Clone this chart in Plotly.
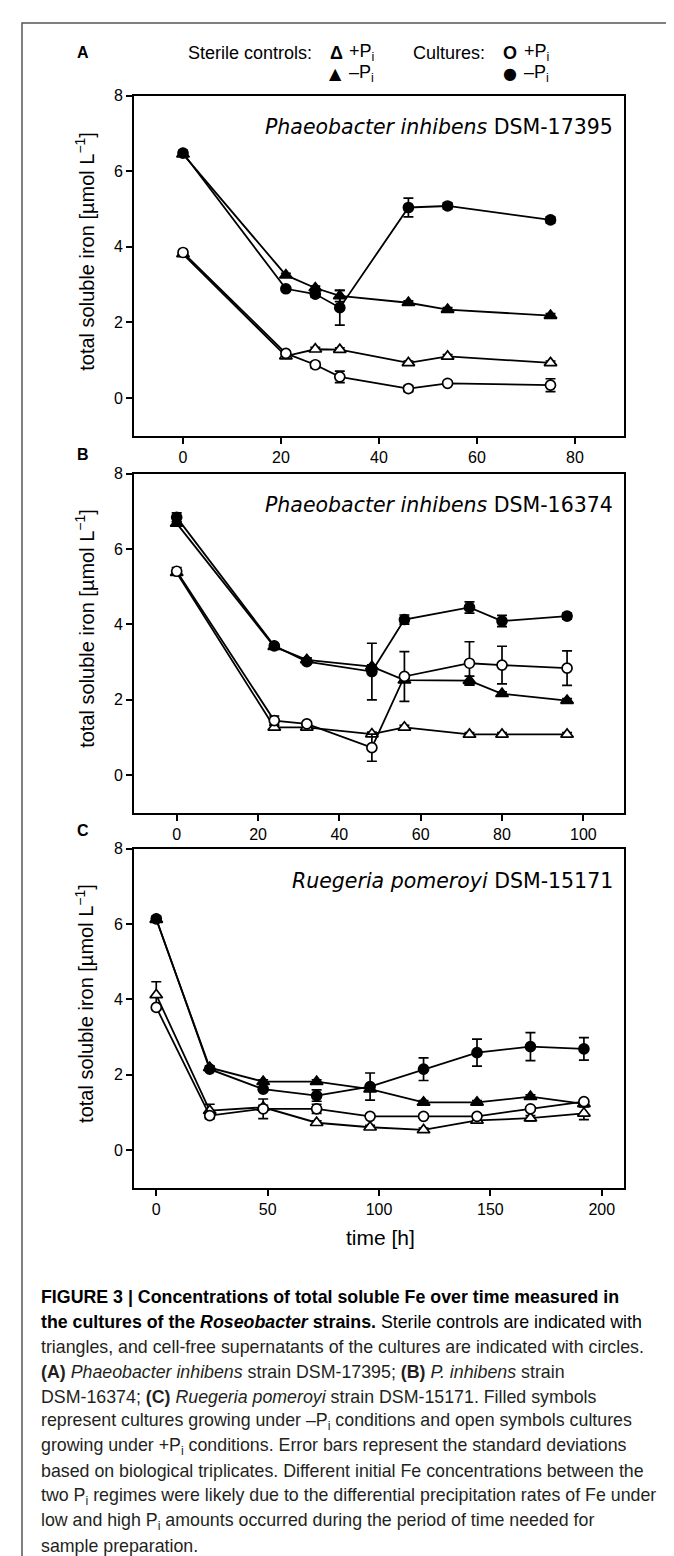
import plotly.graph_objects as go

W, H = 674, 1556

# ---------------- data ----------------
A_time = [0, 21, 27, 32, 46, 54, 75]
A_sterile_plus = [3.81, 1.11, 1.29, 1.28, 0.93, 1.10, 0.93]
A_sterile_plus_err = [0.05, 0.05, 0.05, 0.05, 0.05, 0.05, 0.05]
A_sterile_minus = [6.45, 3.25, 2.91, 2.70, 2.52, 2.34, 2.18]
A_sterile_minus_err = [0.05, 0.05, 0.05, 0.15, 0.05, 0.05, 0.05]
A_culture_plus = [3.85, 1.18, 0.88, 0.56, 0.25, 0.39, 0.34]
A_culture_plus_err = [0.05, 0.05, 0.08, 0.15, 0.08, 0.05, 0.17]
A_culture_minus = [6.48, 2.89, 2.75, 2.39, 5.04, 5.08, 4.71]
A_culture_minus_err = [0.07, 0.05, 0.08, 0.46, 0.25, 0.08, 0.08]

B_time = [0, 24, 32, 48, 56, 72, 80, 96]
B_sterile_plus = [5.37, 1.27, 1.27, 1.09, 1.27, 1.08, 1.08, 1.08]
B_sterile_plus_err = [0.05, 0.05, 0.05, 0.05, 0.05, 0.05, 0.05, 0.05]
B_sterile_minus = [6.68, 3.41, 3.06, 2.88, 2.52, 2.51, 2.16, 1.98]
B_sterile_minus_err = [0.05, 0.05, 0.05, 0.05, 0.05, 0.12, 0.05, 0.05]
B_culture_plus = [5.41, 1.45, 1.36, 0.73, 2.62, 2.97, 2.92, 2.84]
B_culture_plus_err = [0.10, 0.12, 0.05, 0.36, 0.66, 0.57, 0.50, 0.46]
B_culture_minus = [6.84, 3.43, 3.01, 2.75, 4.13, 4.45, 4.09, 4.22]
B_culture_minus_err = [0.12, 0.05, 0.05, 0.75, 0.12, 0.15, 0.15, 0.08]

C_time = [0, 24, 48, 72, 96, 120, 144, 168, 192]
C_sterile_plus = [4.12, 1.05, 1.14, 0.73, 0.61, 0.54, 0.79, 0.85, 0.98]
C_sterile_plus_err = [0.35, 0.17, 0.05, 0.05, 0.05, 0.05, 0.05, 0.07, 0.17]
C_sterile_minus = [6.12, 2.19, 1.82, 1.82, 1.62, 1.27, 1.27, 1.42, 1.23]
C_sterile_minus_err = [0.05, 0.05, 0.05, 0.05, 0.05, 0.05, 0.05, 0.05, 0.05]
C_culture_plus = [3.79, 0.92, 1.10, 1.10, 0.90, 0.90, 0.90, 1.10, 1.29]
C_culture_plus_err = [0.05, 0.08, 0.26, 0.12, 0.05, 0.05, 0.05, 0.05, 0.05]
C_culture_minus = [6.14, 2.15, 1.62, 1.45, 1.69, 2.15, 2.59, 2.75, 2.69]
C_culture_minus_err = [0.07, 0.05, 0.05, 0.15, 0.36, 0.30, 0.36, 0.37, 0.30]

panel_titles = ["<i>Phaeobacter inhibens</i> DSM-17395",
                "<i>Phaeobacter inhibens</i> DSM-16374",
                "<i>Ruegeria pomeroyi</i> DSM-15171"]
panel_letters = ["A", "B", "C"]
x_ranges = [[-10, 90], [-10.5, 110], [-10, 210]]
x_dtick = [20, 20, 50]
y_range = [-1, 8]
y_ticks = [0, 2, 4, 6, 8]

panels = [
    (A_time, [(A_sterile_plus, A_sterile_plus_err), (A_sterile_minus, A_sterile_minus_err),
              (A_culture_plus, A_culture_plus_err), (A_culture_minus, A_culture_minus_err)]),
    (B_time, [(B_sterile_plus, B_sterile_plus_err), (B_sterile_minus, B_sterile_minus_err),
              (B_culture_plus, B_culture_plus_err), (B_culture_minus, B_culture_minus_err)]),
    (C_time, [(C_sterile_plus, C_sterile_plus_err), (C_sterile_minus, C_sterile_minus_err),
              (C_culture_plus, C_culture_plus_err), (C_culture_minus, C_culture_minus_err)]),
]

# (symbol, fill) for sterile +Pi, sterile -Pi, culture +Pi, culture -Pi
styles = [("triangle-up", "white"), ("triangle-up", "black"),
          ("circle", "white"), ("circle", "black")]

# ---------------- layout geometry (pixels) ----------------
box_x = (126, 616)
box_y = [(80, 422), (460, 801), (837, 1178)]

def px(x):
    return x / W

def py(y):
    return 1 - y / H

fig = go.Figure()

SANS = "Liberation Sans, Arial, sans-serif"
TICKFONT = dict(family=SANS, size=16, color="black")

for i, (t, series) in enumerate(panels):
    xa = "x" if i == 0 else f"x{i+1}"
    ya = "y" if i == 0 else f"y{i+1}"
    for (vals, errs), (sym, fill) in zip(series, styles):
        fig.add_trace(go.Scatter(
            x=t, y=vals, xaxis=xa, yaxis=ya, mode="lines+markers",
            line=dict(color="black", width=1.8),
            marker=dict(symbol=sym, size=10 if sym == "circle" else 11,
                        color=fill, line=dict(color="black", width=1.7)),
            error_y=dict(type="data", array=errs, visible=True,
                         color="black", thickness=1.7, width=5),
            showlegend=False, hoverinfo="skip"))
    axis_common = dict(showline=True, linecolor="black", linewidth=2, mirror=True,
                       ticks="outside", ticklen=6, tickwidth=1.5, tickcolor="black",
                       showgrid=False, zeroline=False, tickfont=TICKFONT)
    fig.layout[("xaxis" if i == 0 else f"xaxis{i+1}")] = dict(
        domain=[px(box_x[0]), px(box_x[1])], anchor=ya,
        range=x_ranges[i], dtick=x_dtick[i], tick0=0, **axis_common)
    fig.layout[("yaxis" if i == 0 else f"yaxis{i+1}")] = dict(
        domain=[py(box_y[i][1]), py(box_y[i][0])], anchor=xa,
        range=y_range, tickvals=y_ticks, **axis_common)

annotations = []

def ann(text, x, y, size, family=SANS, xanchor="center",
        yanchor="middle", angle=0, color="black"):
    annotations.append(dict(text=text, x=px(x), y=py(y), xref="paper", yref="paper",
                            showarrow=False, xanchor=xanchor, yanchor=yanchor,
                            textangle=angle, font=dict(family=family, size=size, color=color)))

for i in range(3):
    # species title
    ann(panel_titles[i], 607, box_y[i][0] + 32, 20.5, family="DejaVu Sans, sans-serif",
        xanchor="right")
    # y axis title
    ann("total soluble iron [µmol L<sup>−1</sup>]", 77, box_y[i][1] - 185, 20,
        angle=-90)

ann("<b>A</b>", 75, 37, 16)
ann("<b>B</b>", 75, 441, 16)
ann("<b>C</b>", 75, 819, 16)

# legend (text based)
ann("Sterile controls:", 306, 37, 18, xanchor="right")
ann("<b>Δ</b>", 328, 37, 18)
ann("+P<sub>i</sub>", 339, 37, 18, xanchor="left")
ann("▲", 327, 58, 16, family="DejaVu Sans, sans-serif")
ann("–P<sub>i</sub>", 339, 58, 18, xanchor="left")
ann("Cultures:", 479, 37, 18, xanchor="right")
ann("<b>O</b>", 502, 37, 18)
ann("+P<sub>i</sub>", 514, 37, 18, xanchor="left")
ann("●", 502, 58, 16, family="DejaVu Sans, sans-serif")
ann("–P<sub>i</sub>", 514, 58, 18, xanchor="left")

# x axis title
ann("time [h]", 373, 1228, 21)

# caption
caption_lines = [
    "<b>FIGURE 3 | Concentrations of total soluble Fe over time measured in</b>",
    "<b>the cultures of the <i>Roseobacter</i> strains.</b> Sterile controls are indicated with",
    "triangles, and cell-free supernatants of the cultures are indicated with circles.",
    "<b>(A)</b> <i>Phaeobacter inhibens</i> strain DSM-17395; <b>(B)</b> <i>P. inhibens</i> strain",
    "DSM-16374; <b>(C)</b> <i>Ruegeria pomeroyi</i> strain DSM-15171. Filled symbols",
    "represent cultures growing under –P<sub>i</sub> conditions and open symbols cultures",
    "growing under +P<sub>i</sub> conditions. Error bars represent the standard deviations",
    "based on biological triplicates. Different initial Fe concentrations between the",
    "two P<sub>i</sub> regimes were likely due to the differential precipitation rates of Fe under",
    "low and high P<sub>i</sub> amounts occurred during the period of time needed for",
    "sample preparation.",
]
for k, line in enumerate(caption_lines):
    ann(line, 31, 1288 + k * 25, 17.8, xanchor="left",
        color="#231f20" if k > 1 else "black")

fig.update_layout(
    width=W, height=H, margin=dict(l=0, r=0, t=0, b=0),
    paper_bgcolor="white", plot_bgcolor="white",
    annotations=annotations,
    shapes=[dict(type="rect", xref="paper", yref="paper",
                 x0=px(14), x1=px(670), y0=py(1570), y1=py(7),
                 line=dict(color="#555555", width=1.5))],
)

fig.write_html("out.html")
